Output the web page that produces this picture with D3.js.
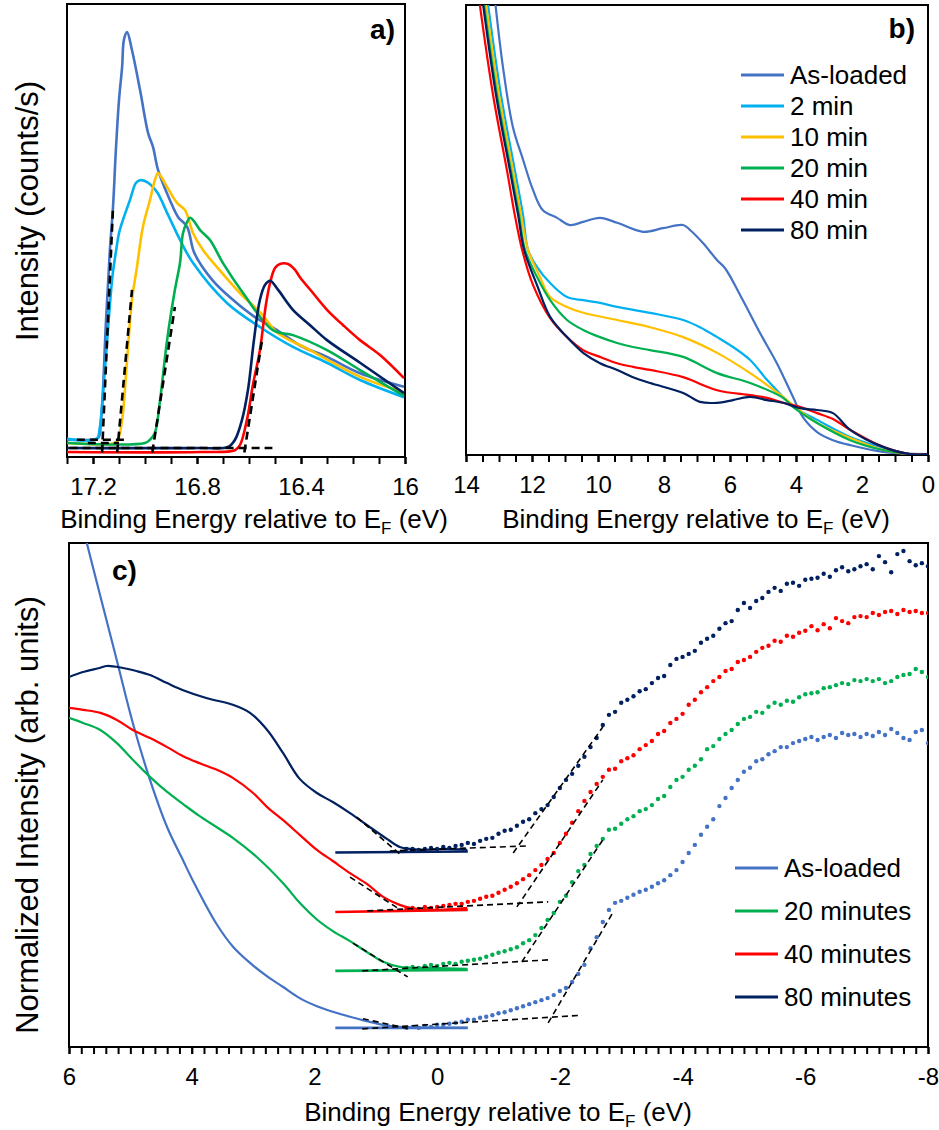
<!DOCTYPE html>
<html>
<head>
<meta charset="utf-8">
<script src="https://cdnjs.cloudflare.com/ajax/libs/d3/7.8.5/d3.min.js"></script>
<style>
body { margin: 0; background: #fff; }
text { font-family: "Liberation Sans", Arial, sans-serif; fill: #000; }
</style>
</head>
<body>
<svg id="fig" width="939" height="1130"></svg>
<script>
// ---- series names / colours ----
var namesB = ["As-loaded", "2 min", "10 min", "20 min", "40 min", "80 min"];
var colorsB = ["#4472C4", "#00B0F0", "#FFC000", "#00B050", "#FF0000", "#002060"];
var namesC = ["As-loaded", "20 minutes", "40 minutes", "80 minutes"];
var colorsC = ["#4472C4", "#00B050", "#FF0000", "#002060"];

// ---- panel a: secondary electron cutoff [eV, counts] ----
var cutAsLoaded = [[17.30,3.8],[17.21,3.8],[17.18,4.2],[17.169,8.2],[17.15,30.0],[17.135,45.7],[17.123,55.2],[17.112,67.8],[17.10,78.8],[17.088,86.1],[17.081,92.1],[17.069,93.8],[17.05,89.8],[17.019,81.0],[16.988,71.5],[16.969,68.4],[16.95,63.4],[16.904,56.7],[16.873,53.0],[16.838,50.8],[16.81,45.0],[16.74,39.0],[16.662,34.7],[16.58,31.0],[16.492,28.0],[16.40,24.5],[16.30,22.1],[16.173,18.5],[16.004,15.5]];
var cut2 = [[17.30,4.0],[17.185,4.0],[17.175,6.0],[17.16,15.0],[17.14,30.0],[17.125,40.0],[17.11,46.0],[17.10,49.4],[17.085,52.3],[17.058,56.7],[17.035,60.5],[17.019,61.1],[16.992,60.7],[16.954,58.5],[16.915,53.9],[16.865,47.9],[16.815,42.8],[16.685,34.0],[16.558,28.7],[16.431,24.3],[16.30,20.8],[16.173,17.0],[16.004,13.2]];
var cut10 = [[17.30,3.1],[17.115,3.1],[17.104,3.8],[17.088,8.2],[17.069,21.4],[17.05,34.7],[17.031,41.9],[17.008,50.8],[16.981,56.7],[16.962,61.1],[16.95,62.7],[16.935,61.6],[16.915,59.6],[16.877,56.1],[16.846,54.5],[16.815,49.4],[16.777,45.7],[16.723,41.9],[16.635,36.2],[16.55,31.5],[16.492,27.5],[16.365,23.6],[16.173,17.7],[16.004,14.3]];
var cut20 = [[17.30,3.1],[17.0,3.1],[16.981,3.8],[16.962,5.3],[16.942,12.6],[16.915,25.8],[16.885,36.9],[16.865,43.0],[16.854,49.4],[16.838,51.9],[16.827,52.8],[16.815,52.3],[16.788,50.1],[16.75,47.9],[16.70,42.8],[16.623,36.2],[16.508,28.0],[16.431,26.9],[16.30,23.6],[16.173,19.2],[16.004,13.5]];
var cut40 = [[17.30,1.1],[16.788,1.1],[16.654,1.5],[16.635,2.6],[16.608,8.2],[16.585,15.9],[16.558,23.6],[16.535,33.6],[16.519,38.4],[16.50,41.7],[16.481,42.6],[16.45,42.6],[16.423,41.3],[16.404,39.7],[16.354,36.2],[16.30,32.5],[16.238,29.1],[16.173,25.8],[16.096,22.5],[16.004,17.4]];
var cut80 = [[17.30,2.0],[16.788,2.0],[16.681,2.2],[16.654,3.8],[16.627,8.2],[16.604,14.8],[16.581,25.8],[16.558,34.7],[16.538,38.0],[16.519,38.9],[16.488,36.9],[16.431,32.5],[16.365,29.1],[16.30,25.8],[16.173,20.8],[16.004,14.1]];
var cutEdgeFits = [[[17.165,1.0],[17.123,55.2]], [[17.107,1.0],[17.05,36.9]], [[16.972,1.0],[16.885,33.1]], [[16.618,1.0],[16.55,25.8]]];
var cutBaseFits = [[[17.262,3.8],[17.069,3.8]], [[17.22,3.1],[17.10,3.1]], [[17.29,2.0],[16.51,2.0]]];

// ---- panel b: valence band survey [eV, intensity] ----
var vbAsLoaded = [[13.12,101],[12.88,86.2],[12.58,72.9],[12.27,65.6],[11.97,58.9],[11.67,54.4],[11.24,52.7],[10.85,51.1],[10.45,51.8],[9.94,52.7],[9.42,51.6],[8.64,49.6],[8.03,50.4],[7.42,51.1],[7.21,50.0],[6.82,47.1],[6.39,43.3],[6.15,41.5],[5.61,34.4],[5.09,27.1],[4.58,20.4],[4.09,12.9],[3.79,8.4],[3.36,5.1],[2.88,3.3],[2.36,2.2],[1.36,0.7],[0.03,0.2]];
var vb2 = [[13.33,100],[12.94,80.0],[12.52,63.3],[12.27,53.3],[12.12,45.6],[11.85,41.8],[11.45,38.2],[10.94,35.1],[10.45,34.4],[9.94,33.8],[9.42,32.9],[8.42,31.6],[7.42,30.0],[6.91,28.4],[6.39,26.2],[5.91,24.0],[5.39,21.1],[4.88,16.7],[4.39,12.9],[4.09,10.7],[3.36,7.8],[2.36,4.0],[1.36,1.6],[0.55,0.2],[0,0.2]];
var vb10 = [[13.39,100],[13.0,80.0],[12.58,63.3],[12.33,53.3],[12.12,45.6],[11.76,39.6],[11.45,35.1],[10.94,32.9],[10.45,31.6],[9.42,30.0],[8.42,28.4],[7.42,26.2],[6.39,22.7],[5.39,18.2],[4.39,12.9],[4.09,11.1],[3.36,7.1],[2.36,3.8],[1.36,1.1],[0.55,0.2],[0,0.2]];
var vb20 = [[13.45,100],[13.06,80.0],[12.64,63.3],[12.39,53.3],[12.21,45.6],[11.85,39.6],[11.45,34.4],[10.94,30.0],[10.45,27.8],[9.94,26.2],[9.42,24.9],[8.94,24.0],[8.42,23.3],[7.42,21.8],[6.39,18.2],[5.39,16.0],[4.39,12.7],[4.09,10.7],[3.36,7.1],[2.36,3.3],[1.36,1.1],[0.55,0.2],[0,0.2]];
var vb40 = [[13.58,100],[13.18,80.0],[12.76,63.3],[12.52,53.3],[12.30,45.6],[11.97,37.8],[11.45,30.4],[10.94,26.2],[10.45,23.3],[9.94,21.8],[9.42,20.4],[8.94,19.6],[8.42,18.9],[7.42,17.3],[6.39,14.4],[5.39,13.3],[4.88,12.7],[4.39,11.6],[3.88,10.7],[3.36,9.3],[2.88,8.0],[2.36,5.6],[1.36,1.8],[0.55,0.2],[0,0.2]];
var vb80 = [[13.48,100],[13.09,80.0],[12.67,63.3],[12.42,53.3],[12.24,45.6],[11.85,37.8],[11.45,30.7],[10.94,26.2],[10.45,22.7],[9.94,20.4],[9.42,18.9],[8.94,17.3],[8.42,16.0],[7.42,13.8],[6.91,11.8],[6.39,11.6],[5.91,12.2],[5.39,12.9],[4.88,12.2],[4.39,11.6],[3.88,10.4],[3.36,10.0],[2.88,9.3],[2.36,5.6],[1.36,1.8],[0.55,0.2],[0,0.2]];

// ---- panel c: valence band edge, solid curves [eV, normalized] ----
var edgeAsLoaded = [[6.0,113.8],[5.71,100],[5.49,89.5],[5.22,76.7],[4.96,64.3],[4.68,53.0],[4.40,43.6],[4.14,37.0],[3.98,33.0],[3.59,24.3],[3.32,19.8],[3.05,16.7],[2.78,14.1],[2.51,11.9],[2.24,9.7],[1.96,8.1],[1.70,7.0],[1.42,6.0],[1.14,5.1],[0.88,4.4],[0.61,4.0],[0.07,3.8],[-0.49,3.8]];
var edge20 = [[6.0,65.3],[5.77,64.3],[5.49,62.9],[5.22,60.3],[4.96,57.0],[4.68,53.6],[4.40,50.6],[4.14,48.2],[3.87,45.8],[3.59,43.6],[3.33,41.5],[2.94,37.7],[2.51,32.5],[2.24,28.6],[1.96,25.3],[1.70,23.0],[1.42,21.0],[1.14,18.8],[0.88,16.9],[0.61,15.9],[0.07,15.7],[-0.49,15.5]];
var edge40 = [[6.0,67.3],[5.77,66.9],[5.49,66.3],[5.22,64.9],[4.96,62.9],[4.68,61.3],[4.40,59.5],[4.14,57.7],[3.87,56.3],[3.59,55.0],[3.33,53.4],[3.00,50.4],[2.77,47.6],[2.51,45.0],[2.24,42.1],[1.96,39.1],[1.70,36.9],[1.42,34.5],[1.14,32.3],[0.88,29.8],[0.61,28.2],[0.44,27.6],[0.07,27.2],[-0.49,27.6]];
var edge80 = [[6.0,73.4],[5.77,74.4],[5.5,75.2],[5.38,75.6],[5.12,75.2],[4.9,74.6],[4.68,73.8],[4.4,72.2],[4.14,70.8],[3.75,69.2],[3.33,67.9],[3.05,66.3],[2.77,62.9],[2.51,58.3],[2.24,53.2],[1.96,50.4],[1.70,48.6],[1.42,46.4],[1.14,44.0],[0.82,41.3],[0.61,39.7],[0.44,39.3],[0.2,39.1],[-0.1,39.3],[-0.49,39.1]];
var flatLevels = [[[1.66,3.8],[-0.5,3.8]], [[1.66,15.1],[-0.5,15.3]], [[1.66,26.8],[-0.5,27.2]], [[1.66,38.6],[-0.5,38.8]]];

// ---- panel c: scatter points, shared energy grid ----
var dotEnergy = [0.5,0.4,0.3,0.2,0.1,0.0,-0.1,-0.2,-0.3,-0.4,-0.5,-0.6,-0.7,-0.8,-0.9,-1.0,-1.1,-1.2,-1.3,-1.4,-1.5,-1.6,-1.7,-1.8,-1.9,-2.0,-2.1,-2.2,-2.3,-2.4,-2.5,-2.6,-2.7,-2.8,-2.9,-3.0,-3.1,-3.2,-3.3,-3.4,-3.5,-3.6,-3.7,-3.8,-3.9,-4.0,-4.1,-4.2,-4.3,-4.4,-4.5,-4.6,-4.7,-4.8,-4.9,-5.0,-5.1,-5.2,-5.3,-5.4,-5.5,-5.6,-5.7,-5.8,-5.9,-6.0,-6.1,-6.2,-6.3,-6.4,-6.5,-6.6,-6.7,-6.8,-6.9,-7.0,-7.1,-7.2,-7.3,-7.4,-7.5,-7.6,-7.7,-7.8,-7.9,-8.0];
var dotsAsLoaded = [3.8,4.0,3.8,4.2,4.0,4.4,4.4,4.6,4.8,5.0,5.4,5.4,5.8,6.0,6.3,6.7,6.9,7.3,7.7,8.1,8.5,8.9,9.3,9.7,10.3,11.1,11.7,12.9,14.5,16.3,19.6,21.8,24.8,27.2,28.6,29.0,29.6,30.2,30.8,31.2,31.8,32.5,33.1,34.1,35.1,36.7,38.5,40.1,42.1,43.7,45.2,47.8,49.4,51.4,53.0,54.6,55.4,56.7,57.1,58.1,58.7,59.5,59.5,60.3,60.7,61.1,61.5,60.9,61.5,61.9,61.3,62.3,61.9,62.1,61.5,62.1,61.7,62.5,61.9,63.1,62.3,61.3,60.9,62.5,62.9,60.3];
var dots20 = [15.7,15.9,15.7,16.1,16.3,16.1,16.5,16.7,16.5,16.9,17.1,17.3,17.5,17.9,18.3,18.7,19.0,19.4,19.8,20.6,21.2,22.2,23.6,25.2,26.6,28.8,30.0,32.7,34.9,36.1,38.3,39.9,41.3,43.1,43.3,44.3,45.2,45.8,46.8,47.2,48.0,49.2,49.8,51.6,53.0,53.6,55.0,55.8,57.1,59.1,59.7,61.1,62.1,62.9,64.1,65.1,65.5,66.5,66.3,67.5,68.3,67.9,68.7,68.5,69.4,70.0,70.2,70.4,71.2,71.4,71.8,72.2,72.0,72.8,72.6,73.0,72.6,73.0,72.2,72.6,73.4,73.8,74.0,75.0,74.4,73.4];
var dots40 = [27.4,27.6,27.4,27.8,27.6,27.8,28.0,28.2,28.4,28.4,28.8,29.0,29.4,29.8,30.0,30.6,31.2,31.8,32.5,33.3,34.1,35.1,36.1,37.3,38.5,40.5,42.3,44.5,46.8,48.8,50.6,52.2,53.6,55.0,55.2,56.7,57.3,57.9,59.1,59.9,60.7,62.1,62.7,64.3,65.1,66.1,67.9,68.9,70.4,71.4,72.6,73.4,74.6,75.0,76.4,76.8,77.4,78.4,79.2,79.6,80.6,80.4,81.6,81.4,82.2,82.6,83.5,82.7,83.9,83.1,85.1,84.5,84.1,85.3,85.5,85.3,86.1,85.7,86.3,86.5,85.9,86.7,86.3,86.5,86.1,86.1];
var dots80 = [39.3,39.3,39.1,39.3,39.5,39.3,39.7,39.5,39.9,40.1,40.5,40.3,40.9,41.3,41.5,42.3,42.9,43.1,43.9,44.7,45.2,46.4,47.2,48.0,49.6,51.4,53.0,54.2,55.8,57.6,59.5,61.3,63.9,65.9,66.5,68.3,68.9,69.6,70.6,71.0,72.2,73.2,73.6,75.8,77.0,77.4,78.0,78.6,80.2,81.0,81.6,83.0,84.1,84.5,86.7,88.1,87.1,88.5,89.1,90.3,91.1,90.5,91.9,92.1,91.5,92.7,92.9,93.1,93.9,93.3,94.6,95.2,94.4,94.8,95.4,95.8,94.8,97.4,96.2,94.2,97.8,98.4,96.4,95.6,96.0,95.4];

// ---- panel c: linear fits (dashed) ----
var leadFits = [[[1.21,5.6],[0.44,3.6]], [[1.37,20.6],[0.48,13.9]], [[1.42,33.7],[0.65,27.6]], [[1.31,45.6],[0.57,37.9]]];
var tailFits = [[[1.22,3.6],[-2.36,6.3]], [[1.22,15.1],[-1.82,17.3]], [[1.14,27.0],[-1.81,28.8]], [[0.77,38.9],[-1.48,39.9]]];
var riseFits = [[[-1.81,4.8],[-2.87,26.8]], [[-1.38,16.9],[-2.70,41.1]], [[-1.30,27.8],[-2.70,53.0]], [[-1.24,38.5],[-2.70,63.5]]];

// ---- tick labels ----
var ticksA = [17.2, 16.8, 16.4, 16];
var ticksB = [14, 12, 10, 8, 6, 4, 2, 0];
var ticksC = [6, 4, 2, 0, -2, -4, -6, -8];

var svg = d3.select("#fig");
var fmt = function (d) { return String(+d.toFixed(1)); };

function drawFrame(g, x, y, name, minorCount, major) {
	var x0 = x.range()[0], x1 = x.range()[1], y0 = y.range()[0], y1 = y.range()[1];
	g.append("clipPath").attr("id", "clip-" + name)
		.append("rect").attr("x", x0).attr("y", y1).attr("width", x1 - x0).attr("height", y0 - y1);

	g.append("g").attr("transform", "translate(0," + y0 + ")")
		.call(d3.axisBottom(x).ticks(minorCount).tickSize(7).tickSizeOuter(0).tickFormat(""))
		.call(function (a) { a.select(".domain").remove(); })
		.selectAll("line").attr("stroke", "#000").attr("stroke-width", 2);

	var ax = g.append("g").attr("transform", "translate(0," + y0 + ")")
		.call(d3.axisBottom(x).tickValues(major).tickSize(7).tickPadding(14).tickSizeOuter(0).tickFormat(fmt));
	ax.select(".domain").remove();
	ax.selectAll("line").attr("stroke", "#000").attr("stroke-width", 2);
	ax.selectAll("text").style("font-size", "24px").style("font-family", '"Liberation Sans", Arial, sans-serif');

	g.append("rect").attr("x", x0).attr("y", y1).attr("width", x1 - x0).attr("height", y0 - y1)
		.attr("fill", "none").attr("stroke", "#000").attr("stroke-width", 2);
}

function xTitle(g, cx, cy) {
	var t = g.append("text").attr("x", cx).attr("y", cy).attr("text-anchor", "middle").style("font-size", "26px");
	t.append("tspan").text("Binding Energy relative to E");
	t.append("tspan").attr("dy", 6).style("font-size", "17px").text("F");
	t.append("tspan").attr("dy", -6).text(" (eV)");
}

function yTitle(g, cx, cy, label) {
	g.append("text").attr("transform", "translate(" + cx + "," + cy + ") rotate(-90)")
		.attr("text-anchor", "middle").style("font-size", "31px").text(label);
}

function drawLines(g, x, y, name, sets, colors, width) {
	var line = d3.line().x(function (d) { return x(d[0]); }).y(function (d) { return y(d[1]); })
		.curve(d3.curveCatmullRom.alpha(0.5));
	g.append("g").attr("clip-path", "url(#clip-" + name + ")")
		.selectAll("path").data(sets).enter().append("path")
		.attr("d", line).attr("fill", "none")
		.attr("stroke", function (d, i) { return colors[i]; })
		.attr("stroke-width", width).attr("stroke-linejoin", "round");
}

function drawDashed(g, x, y, name, sets, width, dash) {
	g.append("g").attr("clip-path", "url(#clip-" + name + ")")
		.selectAll("line").data(sets).enter().append("line")
		.attr("x1", function (d) { return x(d[0][0]); }).attr("y1", function (d) { return y(d[0][1]); })
		.attr("x2", function (d) { return x(d[1][0]); }).attr("y2", function (d) { return y(d[1][1]); })
		.attr("stroke", "#000").attr("stroke-width", width).attr("stroke-dasharray", dash);
}

function legend(g, names, colors, lx, ly, step) {
	g.selectAll("g.leg").data(names).enter().append("g").attr("class", "leg")
		.each(function (d, i) {
			var r = d3.select(this);
			r.append("line").attr("x1", lx).attr("x2", lx + 43)
				.attr("y1", ly + i * step).attr("y2", ly + i * step)
				.attr("stroke", colors[i]).attr("stroke-width", 3);
			r.append("text").attr("x", lx + 49).attr("y", ly + i * step + 9)
				.style("font-size", "26px").text(d);
		});
}

// ---------- panel a ----------
var ga = svg.append("g");
var xa = d3.scaleLinear().domain([17.3, 16]).range([67, 405]);
var ya = d3.scaleLinear().domain([0, 100]).range([457, 4]);
drawFrame(ga, xa, ya, "a", 13, ticksA);
drawLines(ga, xa, ya, "a", [cutAsLoaded, cut2, cut10, cut20, cut40, cut80], colorsB, 2.6);
drawDashed(ga, xa, ya, "a", cutEdgeFits.concat(cutBaseFits), 2.6, "8,5");
xTitle(ga, 254, 528);
yTitle(ga, 38, 211, "Intensity (counts/s)");
ga.append("text").attr("x", 395).attr("y", 39).attr("text-anchor", "end")
	.style("font-size", "28px").style("font-weight", "bold").text("a)");

// ---------- panel b ----------
var gb = svg.append("g");
var xb = d3.scaleLinear().domain([14, 0]).range([466, 928]);
var yb = d3.scaleLinear().domain([0, 100]).range([455, 5]);
drawFrame(gb, xb, yb, "b", 28, ticksB);
drawLines(gb, xb, yb, "b", [vbAsLoaded, vb2, vb10, vb20, vb40, vb80], colorsB, 2.2);
xTitle(gb, 696, 528);
legend(gb, namesB, colorsB, 741, 75, 31);
gb.append("text").attr("x", 915).attr("y", 38).attr("text-anchor", "end")
	.style("font-size", "28px").style("font-weight", "bold").text("b)");

// ---------- panel c ----------
var gc = svg.append("g");
var xc = d3.scaleLinear().domain([6, -8]).range([69, 928]);
var yc = d3.scaleLinear().domain([0, 100]).range([1047, 543]);
drawFrame(gc, xc, yc, "c", 70, ticksC);
drawLines(gc, xc, yc, "c", [edgeAsLoaded, edge20, edge40, edge80], colorsC, 2.2);
drawLines(gc, xc, yc, "c", flatLevels, colorsC, 2.6);
[dotsAsLoaded, dots20, dots40, dots80].forEach(function (vals, i) {
	gc.append("g").attr("clip-path", "url(#clip-c)")
		.selectAll("circle").data(vals).enter().append("circle")
		.attr("cx", function (d, j) { return xc(dotEnergy[j]); })
		.attr("cy", function (d) { return yc(d); })
		.attr("r", 2.2).attr("fill", colorsC[i]);
});
drawDashed(gc, xc, yc, "c", leadFits.concat(tailFits, riseFits), 1.6, "6,4");
xTitle(gc, 498, 1121);
yTitle(gc, 38, 815, "Normalized Intensity (arb. units)");
legend(gc, namesC, colorsC, 735, 868, 43);
gc.append("text").attr("x", 112).attr("y", 580)
	.style("font-size", "28px").style("font-weight", "bold").text("c)");
</script>
</body>
</html>
